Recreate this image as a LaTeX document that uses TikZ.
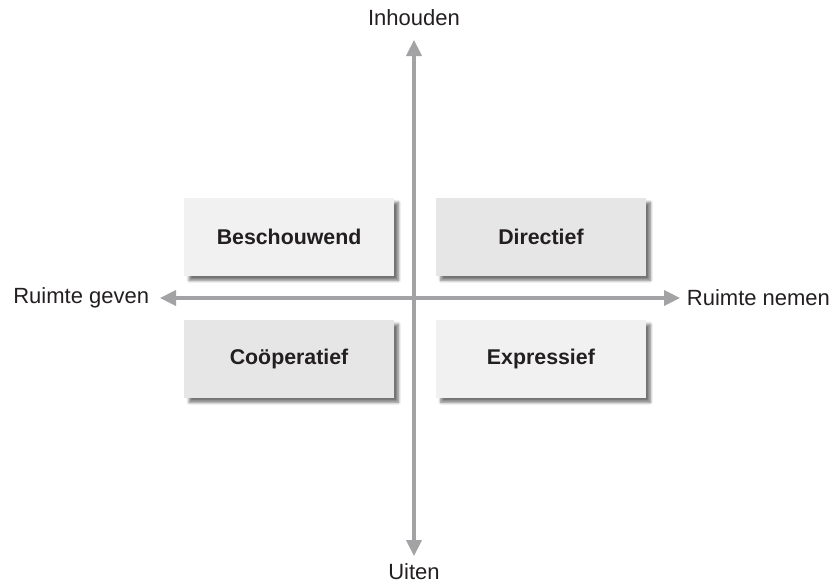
\documentclass[tikz,border=0pt]{standalone}
\usepackage{fontspec}
\setmainfont{Liberation Sans}
\usepackage{tikz}
\usetikzlibrary{arrows.meta,positioning,shadows.blur}
\definecolor{axisgrey}{HTML}{A3A3A5}
\definecolor{boxlight}{HTML}{F1F1F1}
\definecolor{boxdark}{HTML}{E6E6E7}
\definecolor{textdark}{HTML}{231F20}

\begin{document}
\begin{tikzpicture}[
    x=0.75pt, y=-0.75pt,
    box/.style={rectangle, fill=boxlight, minimum width=157pt, minimum height=58.5pt,
                font=\fontsize{16}{19}\selectfont\bfseries, text=textdark,
                blur shadow={shadow xshift=3.5pt, shadow yshift=-3.5pt, shadow blur steps=6,
                             shadow blur extra rounding=0pt, shadow opacity=55}},
    lbl/.style={font=\fontsize{16.5}{19}\selectfont, text=textdark, inner sep=2pt},
    axis/.style={draw=axisgrey, line width=2.3pt,
                 {Triangle[length=12pt,width=11.5pt]}-{Triangle[length=12pt,width=11.5pt]}}
]
\useasboundingbox (0,0) rectangle (832,586);
\coordinate (o) at (414,298);

\node[box, above left=16.5pt and 15pt of o] (besch) {Beschouwend};
\node[box, above right=16.5pt and 16.5pt of o, fill=boxdark] (direct) {Directief};
\node[box, below left=16pt and 15pt of o, fill=boxdark] (coop) {Coöperatief};
\node[box, below right=16pt and 16.5pt of o] (expr) {Expressief};

\node[lbl] (inh) at (414,18) {Inhouden};
\node[lbl] (uit) at (414,572) {Uiten};
\node[lbl, anchor=east] (geven) at (152,298) {Ruimte geven};
\node[lbl, anchor=west] (nemen) at (684,298) {Ruimte nemen};

\coordinate (top) at (414,40);
\coordinate (bot) at (414,556);
\coordinate (lft) at (160,298);
\coordinate (rgt) at (680,298);

\draw[axis] (bot) -- (top);
\draw[axis] (lft) -- (rgt);
\end{tikzpicture}
\end{document}
